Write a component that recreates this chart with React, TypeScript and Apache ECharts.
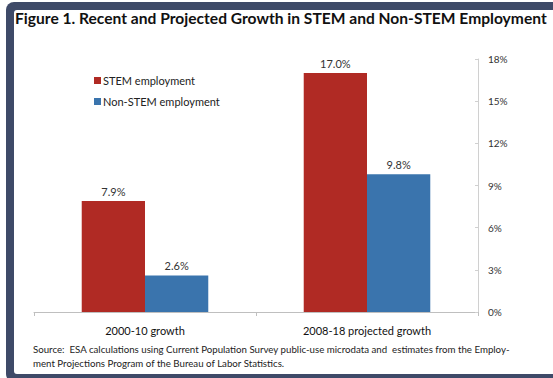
import React, { useEffect, useRef } from "react";
import * as echarts from "echarts";

const categories = ["2000-10 growth", "2008-18 projected growth"];
const stemValues = [7.9, 17.0];
const nonStemValues = [2.6, 9.8];
const seriesNames = ["STEM employment", "Non-STEM employment"];
const yTicks = { min: 0, max: 18, interval: 3 };
const titleText = "Figure 1. Recent and Projected Growth in STEM and Non-STEM Employment";
const sourceLines = [
  "Source:  ESA calculations using Current Population Survey public-use microdata and  estimates from the Employ-",
  "ment Projections Program of the Bureau of Labor Statistics.",
];

const FONT = "Lato, 'Open Sans', sans-serif";

export default function App() {
  const ref = useRef<HTMLDivElement>(null);
  useEffect(() => {
    document.body.style.margin = "0";
    if (!ref.current) return;
    const chart = echarts.init(ref.current, undefined, { renderer: "svg" });
    const labelStyle = {
      show: true,
      position: "top" as const,
      color: "#333",
      fontSize: 11,
      fontFamily: FONT,
      distance: 4,
      formatter: (p: any) => Number(p.value).toFixed(1) + "%",
    };
    chart.setOption({
      animation: false,
      backgroundColor: "#ffffff",
      textStyle: { fontFamily: FONT },
      graphic: [
        {
          type: "rect",
          z: -10,
          silent: true,
          shape: { x: 6, y: 2, width: 600, height: 380, r: 8 },
          style: { fill: "#3e4a68" },
        },
        {
          type: "rect",
          z: -9,
          silent: true,
          shape: { x: 14, y: 10, width: 600, height: 364, r: 3 },
          style: { fill: "#ffffff" },
        },
        {
          type: "text",
          left: 15,
          top: 10,
          style: {
            text: titleText,
            font: `bold 15.6px ${FONT}`,
            fill: "#111",
          },
        },
        {
          type: "text",
          left: 33,
          top: 344,
          style: { text: sourceLines[0], font: `9.7px ${FONT}`, fill: "#222" },
        },
        {
          type: "text",
          left: 33,
          top: 358,
          style: { text: sourceLines[1], font: `9.7px ${FONT}`, fill: "#222" },
        },
      ],
      legend: {
        orient: "vertical",
        left: 89,
        top: 70,
        itemWidth: 7,
        itemHeight: 7,
        itemGap: 10,
        icon: "rect",
        textStyle: { fontSize: 11, color: "#222", fontFamily: FONT, padding: [0, 0, 0, -3] },
        data: seriesNames,
      },
      grid: { left: 34, right: 75, top: 59, bottom: 66, containLabel: false },
      xAxis: {
        type: "category",
        data: categories,
        axisLine: { lineStyle: { color: "#bfbfbf" } },
        axisTick: { show: true, length: 4, lineStyle: { color: "#bfbfbf" } },
        axisLabel: { color: "#111", fontSize: 11, margin: 13, fontFamily: FONT },
      },
      yAxis: {
        type: "value",
        position: "right",
        min: yTicks.min,
        max: yTicks.max,
        interval: yTicks.interval,
        splitLine: { show: false },
        axisLine: { show: true, lineStyle: { color: "#d0d0d0" } },
        axisTick: { show: true, length: 3, inside: true, lineStyle: { color: "#d0d0d0" } },
        axisLabel: {
          color: "#333",
          fontSize: 10,
          margin: 10,
          fontFamily: FONT,
          formatter: "{value}%",
        },
      },
      series: [
        {
          name: seriesNames[0],
          type: "bar",
          data: stemValues,
          barGap: "0%",
          barCategoryGap: "43%",
          itemStyle: { color: "#b02a24" },
          label: labelStyle,
        },
        {
          name: seriesNames[1],
          type: "bar",
          data: nonStemValues,
          itemStyle: { color: "#3a74ad" },
          label: labelStyle,
        },
      ],
    });
    return () => chart.dispose();
  }, []);
  return <div ref={ref} style={{ width: 553, height: 378 }} />;
}
